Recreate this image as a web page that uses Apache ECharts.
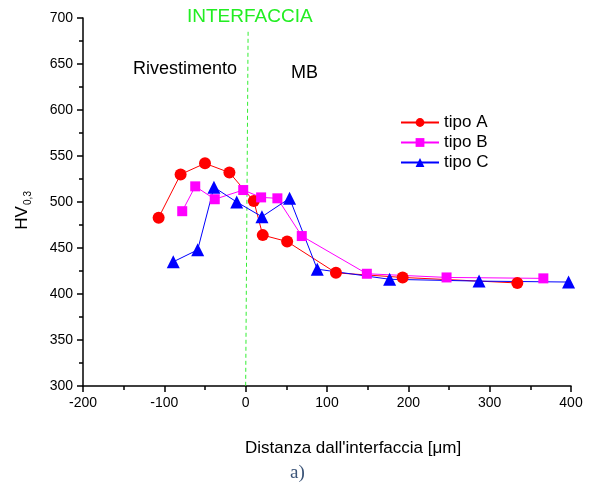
<!DOCTYPE html>
<html>
<head>
<meta charset="utf-8">
<script src="https://cdn.jsdelivr.net/npm/echarts@6/dist/echarts.min.js"></script>
<style>
    html, body { margin: 0; padding: 0; background: #fff; }
    #echarts { width: 598px; height: 493px; }
</style>
</head>
<body>
<div id="echarts"></div>
<script>
// dati: [distanza µm, HV]
var tipoA = [
    [-107, 483], [-80, 530], [-50, 542], [-20, 532], [10, 501],
    [21, 464], [51, 457], [111, 423], [193, 418], [334, 412]
];
var tipoB = [
    [-78, 490], [-62, 517], [-38, 503], [-3, 513], [19, 505],
    [39, 504], [69, 463], [149, 422], [247, 418], [366, 417]
];
var tipoC = [
    [-89, 435], [-59, 448], [-39, 516], [-11, 500], [20, 484],
    [54, 504], [88, 427], [177, 416], [287, 414], [397, 413]
];
var nomiSerie = ['tipo A', 'tipo B', 'tipo C'];
var interfaccia = [[3, 685], [0, 300]];

var font = 'Liberation Sans, Arial, sans-serif';

function serie(nome, dati, colore, simbolo, dim) {
    return {
        name: nome,
        type: 'line',
        data: dati,
        symbol: simbolo,
        symbolSize: dim,
        lineStyle: { color: colore, width: 1 },
        itemStyle: { color: colore },
        animation: false
    };
}

var myChart = echarts.init(document.getElementById('echarts'));
var option = {
    backgroundColor: '#fff',
    animation: false,
    grid: { left: 83, right: 27, top: 18, bottom: 107 },
    legend: {
        orient: 'vertical',
        left: 395,
        top: 109,
        itemWidth: 38,
        itemHeight: 11,
        itemGap: 3,
        textStyle: { fontSize: 17, color: '#000', fontFamily: font },
        data: nomiSerie
    },
    xAxis: {
        type: 'value',
        min: -200, max: 400, interval: 100,
        axisLine: { lineStyle: { color: '#000', width: 1.5 } },
        axisTick: { length: 6, lineStyle: { color: '#000', width: 1.5 } },
        minorTick: { show: true, splitNumber: 2, length: 4, lineStyle: { color: '#000', width: 1.5 } },
        axisLabel: { fontSize: 14, color: '#000', fontFamily: font, margin: 10 },
        splitLine: { show: false }
    },
    yAxis: {
        type: 'value',
        min: 300, max: 700, interval: 50,
        axisLine: { show: true, onZero: false, lineStyle: { color: '#000', width: 1.5 } },
        axisTick: { show: true, length: 6, lineStyle: { color: '#000', width: 1.5 } },
        minorTick: { show: true, splitNumber: 2, length: 4, lineStyle: { color: '#000', width: 1.5 } },
        axisLabel: { fontSize: 14, color: '#000', fontFamily: font, margin: 10 },
        splitLine: { show: false }
    },
    series: [
        {
            // linea tratteggiata interfaccia
            type: 'line',
            data: interfaccia,
            symbol: 'none',
            lineStyle: { color: '#33ee33', width: 1, type: [4, 3] },
            silent: true,
            animation: false
        },
        serie(nomiSerie[0], tipoA, '#ff0000', 'circle', 12),
        serie(nomiSerie[1], tipoB, '#ff00ff', 'rect', 10),
        serie(nomiSerie[2], tipoC, '#0000ff', 'triangle', 13)
    ],
    graphic: [
        { type: 'text', left: 187, top: 7,
          style: { text: 'INTERFACCIA', fill: '#22ee22', font: '19px ' + font } },
        { type: 'text', left: 133, top: 60,
          style: { text: 'Rivestimento', fill: '#000', font: '18px ' + font } },
        { type: 'text', left: 291, top: 64,
          style: { text: 'MB', fill: '#000', font: '18px ' + font } },
        { type: 'text', x: 22, y: 218, rotation: Math.PI / 2,
          style: { text: 'HV', fill: '#000', font: '17px ' + font, align: 'center', verticalAlign: 'middle' } },
        { type: 'text', x: 28, y: 198, rotation: Math.PI / 2,
          style: { text: '0,3', fill: '#000', font: '10px ' + font, align: 'center', verticalAlign: 'middle' } },
        { type: 'text', left: 245, top: 440,
          style: { text: "Distanza dall'interfaccia [\u03bcm]", fill: '#000', font: '17px ' + font } },
        { type: 'text', left: 290, top: 464,
          style: { text: 'a)', fill: '#3b5478', font: '19px Liberation Serif, DejaVu Serif, serif' } }
    ]
};
myChart.setOption(option);
</script>
</body>
</html>
